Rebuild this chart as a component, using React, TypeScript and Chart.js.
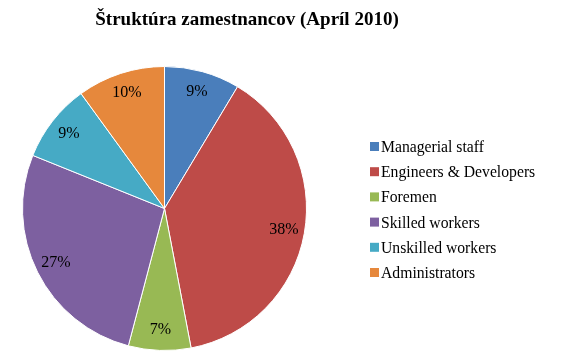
import React, { useEffect, useRef } from "react";
import { Chart, ArcElement, PieController } from "chart.js";

Chart.register(PieController, ArcElement);

const TITLE = "Štruktúra zamestnancov (Apríl 2010)";
const CATEGORIES = [
  "Managerial staff",
  "Engineers & Developers",
  "Foremen",
  "Skilled workers",
  "Unskilled workers",
  "Administrators",
];
const SHARES = [8.6, 38.4, 7.1, 27.0, 8.9, 10.0];
const COLORS = ["#4A7EBB", "#BE4B48", "#98B954", "#7D60A0", "#46AAC5", "#E6883C"];

const SERIF = '"Liberation Serif", "Times New Roman", serif';

const decorations = {
  id: "decorations",
  afterDatasetsDraw(chart: any) {
    const { ctx, chartArea } = chart;
    const meta = chart.getDatasetMeta(0);
    const data = chart.data.datasets[0].data as number[];
    const total = data.reduce((a: number, b: number) => a + b, 0);
    ctx.save();
    ctx.fillStyle = "#000000";
    ctx.font = `16px ${SERIF}`;
    ctx.textAlign = "center";
    ctx.textBaseline = "middle";
    meta.data.forEach((el: any, i: number) => {
      const { x, y, startAngle, endAngle, outerRadius } = el.getProps(
        ["x", "y", "startAngle", "endAngle", "outerRadius"],
        true
      );
      const mid = (startAngle + endAngle) / 2;
      const r = outerRadius * 0.855;
      ctx.fillText(
        `${Math.round((data[i] / total) * 100)}%`,
        x + Math.cos(mid) * r,
        y + Math.sin(mid) * r
      );
    });

    // title
    ctx.font = `bold 19px ${SERIF}`;
    ctx.textBaseline = "alphabetic";
    ctx.textAlign = "center";
    ctx.fillText(TITLE, 247, 25);

    // legend
    const labels = chart.data.labels as string[];
    const colors = chart.data.datasets[0].backgroundColor as string[];
    const centerY = (chartArea.top + chartArea.bottom) / 2;
    const boxX = chartArea.right + 63;
    ctx.font = `15.7px ${SERIF}`;
    ctx.textAlign = "left";
    labels.forEach((label, i) => {
      const baseline = centerY + (i - 2.5) * 25.2 + 6.5;
      ctx.fillStyle = colors[i];
      ctx.fillRect(boxX, baseline - 10, 9, 9);
      ctx.fillStyle = "#000000";
      ctx.fillText(label, boxX + 11, baseline);
    });
    ctx.restore();
  },
};

export default function App() {
  const canvasRef = useRef<HTMLCanvasElement | null>(null);

  useEffect(() => {
    if (!canvasRef.current) return;
    const chart = new Chart(canvasRef.current, {
      type: "pie",
      data: {
        labels: CATEGORIES,
        datasets: [
          {
            data: SHARES,
            backgroundColor: COLORS,
            borderColor: "#ffffff",
            borderWidth: 1,
          },
        ],
      },
      options: {
        responsive: false,
        animation: false,
        events: [],
        layout: { padding: { left: 22, right: 257, top: 66, bottom: 9 } },
        plugins: {
          legend: { display: false },
          title: { display: false },
          tooltip: { enabled: false },
        },
      },
      plugins: [decorations],
    });
    return () => chart.destroy();
  }, []);

  return (
    <div
      style={{
        position: "absolute",
        left: 0,
        top: 0,
        width: 564,
        height: 360,
        background: "#ffffff",
      }}
    >
      <canvas ref={canvasRef} width={564} height={360} style={{ display: "block" }} />
    </div>
  );
}
